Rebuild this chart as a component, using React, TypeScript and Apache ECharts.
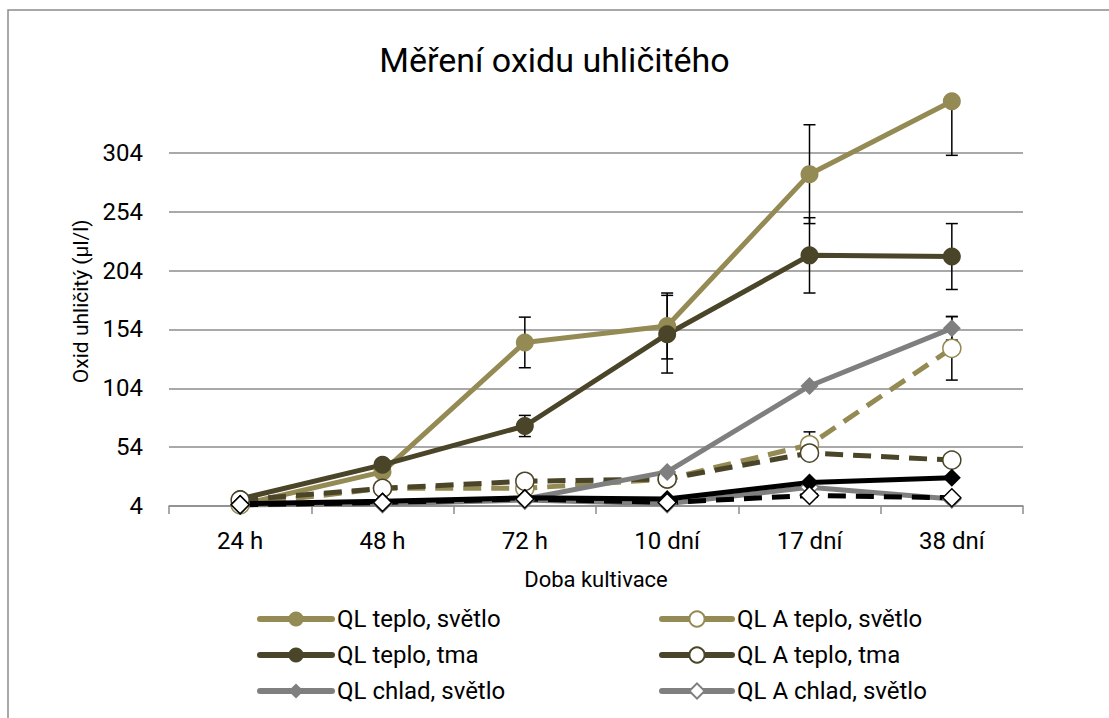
import React, { useEffect, useRef } from "react";
import * as echarts from "echarts";

const categories = ["24 h", "48 h", "72 h", "10 dní", "17 dní", "38 dní"];
const yTicks = [4, 54, 104, 154, 204, 254, 304];
const yMin = 4;
const yMax = 352;

const qlTeploSvetlo = [5, 33, 143, 157, 286, 348];
const qlTeploSvetloErr = [0, 0, 21.5, 28, 42, 46];
const qlATeploSvetlo = [5, 19, 19, 27, 56, 138];
const qlATeploSvetloErr = [0, 0, 0, 0, 11, 27];
const qlTeploTma = [10, 39, 72, 150, 217, 216];
const qlTeploTmaErr = [0, 0, 9, 33, 32, 28];
const qlATeploTma = [9, 19, 25, 27, 49, 43];
const qlChladSvetlo = [5, 7, 10, 33, 106, 155];
const qlChladSvetloErr = [0, 0, 0, 0, 0, 10];
const qlAChladSvetlo = [5, 6, 9, 6, 20, 10];
const qlChladTma = [6, 8, 11, 10, 24, 28];
const qlAChladTma = [5, 7, 10, 7, 13, 11];

const OLIVE = "#948A54";
const DARK = "#4A4529";
const GRAY = "#7F7F7F";
const BLACK = "#000000";
const FONT = "Roboto";

function lineSeries(
  name: string,
  data: number[],
  color: string,
  dashed: boolean,
  symbol: string,
  hollow: boolean,
  size: number
) {
  return {
    name,
    type: "line",
    data,
    symbol,
    symbolSize: size,
    z: 3,
    lineStyle: {
      color,
      width: 5,
      type: dashed ? [18, 10] : "solid",
      cap: "butt",
    },
    itemStyle: hollow
      ? { color: "#ffffff", borderColor: color, borderWidth: 1.5 }
      : { color, borderColor: color, borderWidth: 0 },
    emphasis: { disabled: true },
  };
}

const errorRows: number[][] = [];
[
  [qlTeploSvetlo, qlTeploSvetloErr],
  [qlATeploSvetlo, qlATeploSvetloErr],
  [qlTeploTma, qlTeploTmaErr],
  [qlChladSvetlo, qlChladSvetloErr],
].forEach(([vals, errs]) => {
  vals.forEach((v, i) => {
    if (errs[i] > 0) errorRows.push([i, v, errs[i]]);
  });
});

export default function App() {
  const ref = useRef<HTMLDivElement>(null);
  useEffect(() => {
    if (!ref.current) return;
    const chart = echarts.init(ref.current, null, { renderer: "svg" });
    const legendText = { fontFamily: FONT, fontSize: 24, color: "#000", lineHeight: 24 };
    const legendLine = { width: 6, type: "solid", cap: "round" };
    chart.setOption({
      animation: false,
      backgroundColor: "#ffffff",
      title: {
        text: "Měření oxidu uhličitého",
        left: "center",
        top: 38,
        textStyle: { fontFamily: FONT, fontSize: 34, fontWeight: "normal", color: "#000" },
      },
      graphic: [
        {
          type: "rect",
          shape: { x: 8, y: 10, width: 1200, height: 800 },
          style: { fill: "none", stroke: "#8c8c8c", lineWidth: 1.5 },
          silent: true,
        },
      ],
      grid: { left: 169, right: 86, top: 96.5, bottom: 212 },
      legend: [
        {
          orient: "vertical",
          left: 252,
          top: 602,
          itemWidth: 72,
          itemHeight: 19,
          itemGap: 12,
          textStyle: legendText,
          lineStyle: legendLine,
          data: ["QL teplo, světlo", "QL teplo, tma", "QL chlad, světlo"],
        },
        {
          orient: "vertical",
          left: 654,
          top: 602,
          itemWidth: 70,
          itemHeight: 19,
          itemGap: 12,
          textStyle: legendText,
          lineStyle: legendLine,
          data: ["QL A teplo, světlo", "QL A teplo, tma", "QL A chlad, světlo"],
        },
      ],
      xAxis: {
        type: "category",
        data: categories,
        boundaryGap: true,
        name: "Doba kultivace",
        nameLocation: "middle",
        nameGap: 62,
        nameTextStyle: { fontFamily: FONT, fontSize: 22, color: "#000" },
        axisLine: { lineStyle: { color: "#8c8c8c", width: 1.5 } },
        axisTick: { show: true, length: 8, lineStyle: { color: "#8c8c8c", width: 1.5 } },
        axisLabel: { fontFamily: FONT, fontSize: 24, color: "#000", margin: 23 },
      },
      yAxis: {
        type: "value",
        min: yMin,
        max: yMax,
        name: "Oxid uhličitý (µl/l)",
        nameLocation: "middle",
        nameGap: 75,
        nameRotate: 90,
        nameTextStyle: { fontFamily: FONT, fontSize: 21, color: "#000" },
        axisLine: { show: false },
        axisTick: { show: false, customValues: yTicks },
        axisLabel: {
          fontFamily: FONT,
          fontSize: 24,
          color: "#000",
          margin: 26,
          customValues: yTicks,
        },
        splitLine: { show: true, lineStyle: { color: "#8c8c8c", width: 1.5 } },
      },
      series: [
        {
          type: "custom",
          name: "errors",
          z: 2,
          data: errorRows,
          encode: { x: 0, y: 1 },
          renderItem: (params: any, api: any) => {
            const x = api.value(0);
            const v = api.value(1);
            const e = api.value(2);
            const hiV = Math.min(v + e, yMax);
            const loV = Math.max(v - e, yMin);
            const pHi = api.coord([x, hiV]);
            const pLo = api.coord([x, loV]);
            const st = { stroke: "#000", lineWidth: 1.5 };
            const children: any[] = [
              { type: "line", shape: { x1: pHi[0], y1: pHi[1], x2: pLo[0], y2: pLo[1] }, style: st },
              { type: "line", shape: { x1: pLo[0] - 6, y1: pLo[1], x2: pLo[0] + 6, y2: pLo[1] }, style: st },
            ];
            if (v + e <= yMax) {
              children.push({
                type: "line",
                shape: { x1: pHi[0] - 6, y1: pHi[1], x2: pHi[0] + 6, y2: pHi[1] },
                style: st,
              });
            }
            return { type: "group", children };
          },
        },
        lineSeries("QL teplo, světlo", qlTeploSvetlo, OLIVE, false, "circle", false, 18),
        lineSeries("QL A teplo, světlo", qlATeploSvetlo, OLIVE, true, "circle", true, 18),
        lineSeries("QL teplo, tma", qlTeploTma, DARK, false, "circle", false, 18),
        lineSeries("QL A teplo, tma", qlATeploTma, DARK, true, "circle", true, 18),
        lineSeries("QL chlad, světlo", qlChladSvetlo, GRAY, false, "diamond", false, 18),
        lineSeries("QL A chlad, světlo", qlAChladSvetlo, GRAY, false, "diamond", true, 18),
        lineSeries("QL chlad, tma", qlChladTma, BLACK, false, "diamond", false, 18),
        lineSeries("QL A chlad, tma", qlAChladTma, BLACK, true, "diamond", true, 18),
      ],
    });
    return () => chart.dispose();
  }, []);
  return (
    <div
      ref={ref}
      style={{ position: "absolute", left: 0, top: 0, width: 1109, height: 718 }}
    />
  );
}
